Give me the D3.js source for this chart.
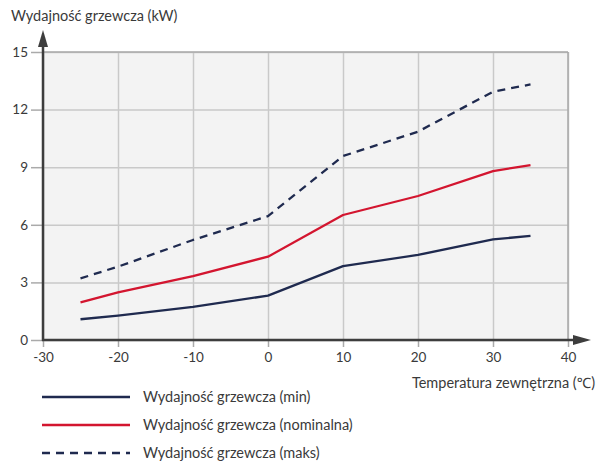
<!DOCTYPE html>
<html><head><meta charset="utf-8">
<script src="https://cdn.jsdelivr.net/npm/d3@7"></script>
<style>body{margin:0;background:#fff}svg{display:block;font-family:Lato,"Noto Sans",sans-serif}</style>
</head><body><svg id="c" width="597" height="462"></svg>
<script>
const temps = [-25, -20, -10, 0, 10, 20, 30, 35];
const minVals = [1.08, 1.27, 1.73, 2.31, 3.85, 4.43, 5.24, 5.42];
const nomVals = [1.96, 2.48, 3.33, 4.34, 6.51, 7.5, 8.8, 9.11];
const maxVals = [3.21, 3.82, 5.21, 6.45, 9.58, 10.85, 12.93, 13.31];
const xTicks = [-30, -20, -10, 0, 10, 20, 30, 40];
const yTicks = [0, 3, 6, 9, 12, 15];
const seriesNames = ["Wydajność grzewcza (min)", "Wydajność grzewcza (nominalna)", "Wydajność grzewcza (maks)"];

const svg = d3.select("#c");
const x = d3.scaleLinear().domain([-30, 40]).range([43, 568]);
const y = d3.scaleLinear().domain([0, 15]).range([340, 52]);
const navy = "#1f2a4f", red = "#d3152f", grid = "#c9c9c9", txt = "#3a3a3a";

svg.append("rect").attr("x", x(-30)).attr("y", y(15)).attr("width", x(40) - x(-30)).attr("height", y(0) - y(15)).attr("fill", "#f3f3f3");

// grid
const gx = svg.append("g").attr("transform", `translate(0,${y(0)})`)
  .call(d3.axisBottom(x).tickValues(xTicks).tickSize(-(y(0) - y(15))).tickFormat(""));
gx.select(".domain").remove();
gx.selectAll("line").attr("stroke", grid).attr("stroke-width", 1.5);
const gy = svg.append("g").attr("transform", `translate(${x(-30)},0)`)
  .call(d3.axisLeft(y).tickValues(yTicks).tickSize(-(x(40) - x(-30))).tickFormat(""));
gy.select(".domain").remove();
gy.selectAll("line").attr("stroke", grid).attr("stroke-width", 1.5);
svg.append("line").attr("x1", x(40)).attr("x2", x(40)).attr("y1", y(15)).attr("y2", y(0)).attr("stroke", "#a8a8a8").attr("stroke-width", 1.5);
svg.append("line").attr("x1", x(-30)).attr("x2", x(40)).attr("y1", y(15)).attr("y2", y(15)).attr("stroke", "#a8a8a8").attr("stroke-width", 1.5);

// axes with labels
const fmt = d => String(d);
const ax = svg.append("g").attr("transform", `translate(0,${y(0)})`)
  .call(d3.axisBottom(x).tickValues(xTicks).tickSize(7).tickPadding(5).tickFormat(fmt));
ax.select(".domain").remove();
ax.selectAll("line").attr("stroke", "#aaa").attr("stroke-width", 1.5);
ax.selectAll("text").attr("fill", txt).attr("font-size", 13.5).attr("font-family", "Lato");
const ay = svg.append("g").attr("transform", `translate(${x(-30)},0)`)
  .call(d3.axisLeft(y).tickValues(yTicks).tickSize(12).tickPadding(3).tickFormat(fmt));
ay.select(".domain").remove();
ay.selectAll("line").attr("stroke", "#aaa").attr("stroke-width", 1.5);
ay.selectAll("text").attr("fill", txt).attr("font-size", 13.5).attr("font-family", "Lato");

// axis lines with arrows
svg.append("line").attr("x1", x(-30)).attr("x2", x(-30)).attr("y1", y(0) + 1).attr("y2", 44).attr("stroke", "#3d3d3d").attr("stroke-width", 2.5);
svg.append("path").attr("d", `M${x(-30)},30 L${x(-30) + 5},47 L${x(-30) - 5},47 Z`).attr("fill", "#3d3d3d");
svg.append("line").attr("x1", x(-30) - 1).attr("x2", 578).attr("y1", y(0)).attr("y2", y(0)).attr("stroke", "#3d3d3d").attr("stroke-width", 2.5);
svg.append("path").attr("d", `M591,${y(0)} L573,${y(0) - 5} L573,${y(0) + 5} Z`).attr("fill", "#3d3d3d");

// lines
const line = d3.line().x((d, i) => x(temps[i])).y(d => y(d)).curve(d3.curveLinear);
const series = [
  {vals: minVals, color: navy, dash: null},
  {vals: nomVals, color: red, dash: null},
  {vals: maxVals, color: navy, dash: "8,6"}
];
series.forEach(s => {
  svg.append("path").datum(s.vals).attr("d", line).attr("fill", "none")
    .attr("stroke", s.color).attr("stroke-width", 2.3).attr("stroke-linejoin", "round").attr("stroke-dasharray", s.dash);
});

// titles
svg.append("text").attr("x", 11).attr("y", 21).attr("fill", txt).attr("font-size", 14.5).text("Wydajność grzewcza (kW)");
svg.append("text").attr("x", 595).attr("y", 388).attr("text-anchor", "end").attr("fill", txt).attr("font-size", 14.5).text("Temperatura zewnętrzna (℃)");

// legend
series.forEach((s, i) => {
  const ly = 397 + i * 28;
  svg.append("line").attr("x1", 42).attr("x2", 130).attr("y1", ly).attr("y2", ly)
    .attr("stroke", s.color).attr("stroke-width", 2.3).attr("stroke-dasharray", s.dash);
  svg.append("text").attr("x", 143).attr("y", ly + 5).attr("fill", txt).attr("font-size", 14.5).text(seriesNames[i]);
});
</script></body></html>
